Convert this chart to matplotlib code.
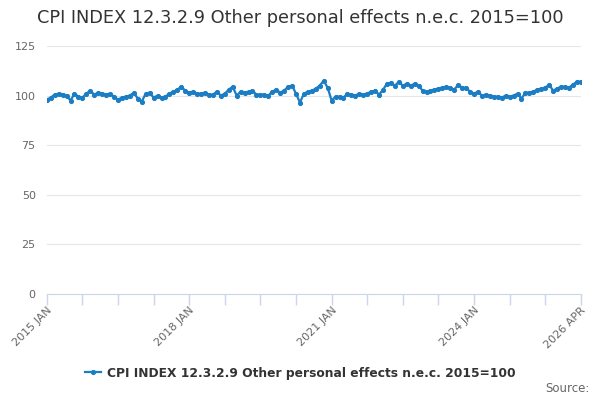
import matplotlib
matplotlib.use('Agg')
import numpy as np
import matplotlib.pyplot as plt

title = 'CPI INDEX 12.3.2.9 Other personal effects n.e.c. 2015=100'
series_name = title

# monthly index values, one list per year
y2015 = [98, 99, 100.5, 101, 100.5, 100, 97.5, 101, 99.5, 99, 101, 102.5]
y2016 = [100.5, 101.5, 101, 100.5, 101, 99.5, 98, 99, 99.5, 100, 101.5, 98.5]
y2017 = [97, 101, 101.5, 99, 100, 99, 99.5, 101, 102, 103, 104.5, 102.5]
y2018 = [101.5, 102, 101, 101, 101.5, 100.5, 100.5, 102, 100, 101, 103, 104.5]
y2019 = [100, 102, 101.5, 102, 102.5, 100.5, 100.5, 100.5, 100, 102, 103, 101.5]
y2020 = [102.5, 104.5, 105, 101, 96.5, 101, 102, 102.5, 103.5, 105, 107.5, 104]
y2021 = [97.5, 99.5, 99.5, 99, 101, 100.5, 100, 101, 100.5, 101, 102, 102.5]
y2022 = [100.5, 103, 106, 106.5, 105, 107, 105, 106, 105, 106, 105, 102.5]
y2023 = [102, 102.5, 103, 103.5, 104, 104.5, 104, 103, 105.5, 104, 104, 102]
y2024 = [101, 102, 100, 100.5, 100, 99.5, 99.5, 99, 100, 99.5, 100, 101]
y2025 = [98.5, 101.5, 101.5, 102, 103, 103.5, 104, 105.5, 102.5, 103.5, 104.5, 104.5]
y2026 = [104, 105.5, 107, 107]

values = (y2015 + y2016 + y2017 + y2018 + y2019 + y2020 + y2021 + y2022
          + y2023 + y2024 + y2025 + y2026)
months = np.arange(len(values))

label_pos = [0, 36, 72, 108, 135]
label_txt = ['2015 JAN', '2018 JAN', '2021 JAN', '2024 JAN', '2026 APR']

fig = plt.figure(figsize=(6, 4), dpi=100)
ax = fig.add_axes([0.078, 0.265, 0.890, 0.62])

line_color = '#1b7dc4'
ax.plot(months, values, color=line_color, lw=1.6, marker='o', ms=2.7,
        label=series_name)

ax.set_xlim(0, len(values) - 1)
ax.set_ylim(0, 125)
ax.set_yticks(np.arange(0, 126, 25))
ax.yaxis.grid(True, color='#e6e6e6', lw=0.8)
ax.set_axisbelow(True)
ax.tick_params(axis='y', length=0, labelsize=8, labelcolor='#666666', pad=8)

ax.set_xticks(np.arange(0, len(values), 9))
ax.set_xticklabels(['' for _ in range(0, len(values), 9)])
ax.tick_params(axis='x', length=8, color='#ccd6eb', width=1)
for p, t in zip(label_pos, label_txt):
    ax.text(p, -0.045, t, transform=ax.get_xaxis_transform(), rotation=45,
            ha='right', va='top', rotation_mode='anchor', fontsize=8,
            color='#666666')

for s in ['top', 'right', 'left']:
    ax.spines[s].set_visible(False)
ax.spines['bottom'].set_color('#ccd6eb')

fig.text(0.5, 0.955, title, ha='center', va='center', fontsize=12.8,
         color='#333333')

leg = fig.legend(loc='center', bbox_to_anchor=(0.5, 0.067), frameon=False,
                 prop={'size': 8.8, 'weight': 'bold'}, handlelength=1.3,
                 handletextpad=0.5)
for t in leg.get_texts():
    t.set_color('#333333')

fig.text(0.982, 0.028, 'Source:', ha='right', va='center', fontsize=8.5,
         color='#666666')

fig.savefig('out.png', dpi=100, facecolor='white')
